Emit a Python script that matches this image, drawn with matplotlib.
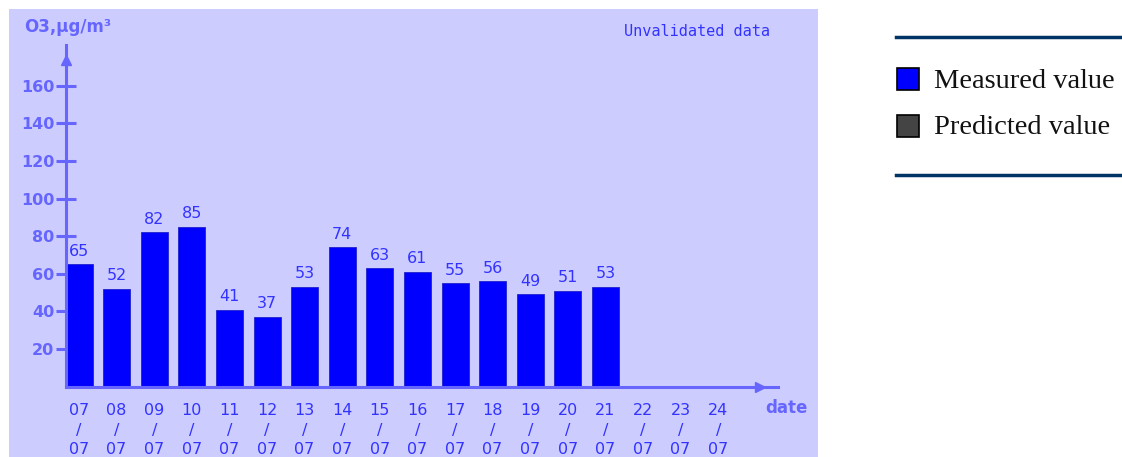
import matplotlib.pyplot as plt
from matplotlib.patches import Rectangle
from matplotlib.lines import Line2D

days = ["07", "08", "09", "10", "11", "12", "13", "14", "15",
        "16", "17", "18", "19", "20", "21", "22", "23", "24"]
month = "07"
measured = [65, 52, 82, 85, 41, 37, 53, 74, 63, 61, 55, 56, 49, 51, 53]
yticks = [20, 40, 60, 80, 100, 120, 140, 160]

W, H = 1122, 457
panel = "#ccccff"
axis_col = "#6666ff"
bar_col = "#0000ff"
text_col = "#3333ff"

fig = plt.figure(figsize=(W / 100, H / 100), dpi=100)


def fx(x):
    return x / W


def fy(y):
    return 1 - y / H


# chart panel background
fig.patches.append(Rectangle((fx(9), 0), fx(818) - fx(9), fy(9), transform=fig.transFigure,
                             facecolor=panel, edgecolor="none", zorder=-10))

# data axes: origin at the axis crossing
x0, x1, y0, y1 = 66, 778, 386.6, 45
ax = fig.add_axes([fx(x0), fy(y0), fx(x1) - fx(x0), fy(y1) - fy(y0)])
ax.patch.set_visible(False)
step = 37.6
ax.set_xlim(-13 / step, (x1 - x0 - 13) / step)
ax.set_ylim(0, (y0 - y1) / step * 20)

idx = list(range(len(measured)))
ax.bar(idx, measured, width=27 / step, color=bar_col, edgecolor="#2222cc", linewidth=0.6, zorder=2)
for i, v in zip(idx, measured):
    ax.text(i, v + 3, str(v), ha="center", va="bottom", color=text_col, fontsize=11.5)

for s in ["top", "right"]:
    ax.spines[s].set_visible(False)
for s in ["left", "bottom"]:
    ax.spines[s].set_color(axis_col)
    ax.spines[s].set_linewidth(2.2)

ax.set_yticks(yticks)
ax.set_yticklabels([str(t) for t in yticks], color=axis_col, fontweight="bold", fontsize=11.5)
ax.tick_params(axis="y", direction="inout", length=15, width=2.2, color=axis_col, pad=1)

ax.set_xticks(range(len(days)))
ax.set_xticklabels([f"{d}\n/\n{month}" for d in days], color=text_col, fontsize=11.5,
                   linespacing=1.37)
ax.tick_params(axis="x", length=0, pad=12)

# arrow heads
ax.plot([0], [0.955], marker="^", markersize=7, color=axis_col, transform=ax.transAxes, clip_on=False)
ax.plot([0.975], [0], marker=">", markersize=7, color=axis_col, transform=ax.transAxes, clip_on=False)

fig.text(fx(24), fy(27), "O3,µg/m³", color=axis_col, fontweight="bold", fontsize=12,
         va="center", ha="left")
fig.text(fx(770), fy(31), "Unvalidated data", color=text_col, fontsize=11, family="DejaVu Sans Mono",
         va="center", ha="right")
fig.text(fx(765), fy(408), "date", color=axis_col, fontweight="bold", fontsize=12,
         va="center", ha="left")

# legend area
for yl in [37, 175]:
    fig.add_artist(Line2D([fx(896), fx(1120)], [fy(yl), fy(yl)], color="#003366", linewidth=2.5,
                          transform=fig.transFigure))
for yc, col, lab in [(79, bar_col, "Measured value"), (126, "#444444", "Predicted value")]:
    fig.patches.append(Rectangle((fx(897), fy(yc + 11)), fx(22), 22 / H, transform=fig.transFigure,
                                 facecolor=col, edgecolor="black", linewidth=1.2))
    fig.text(fx(934), fy(yc + 2), lab, fontsize=20.5, family="Liberation Serif",
             va="center", ha="left", color="#111111")

fig.savefig("out.png", dpi=100)
